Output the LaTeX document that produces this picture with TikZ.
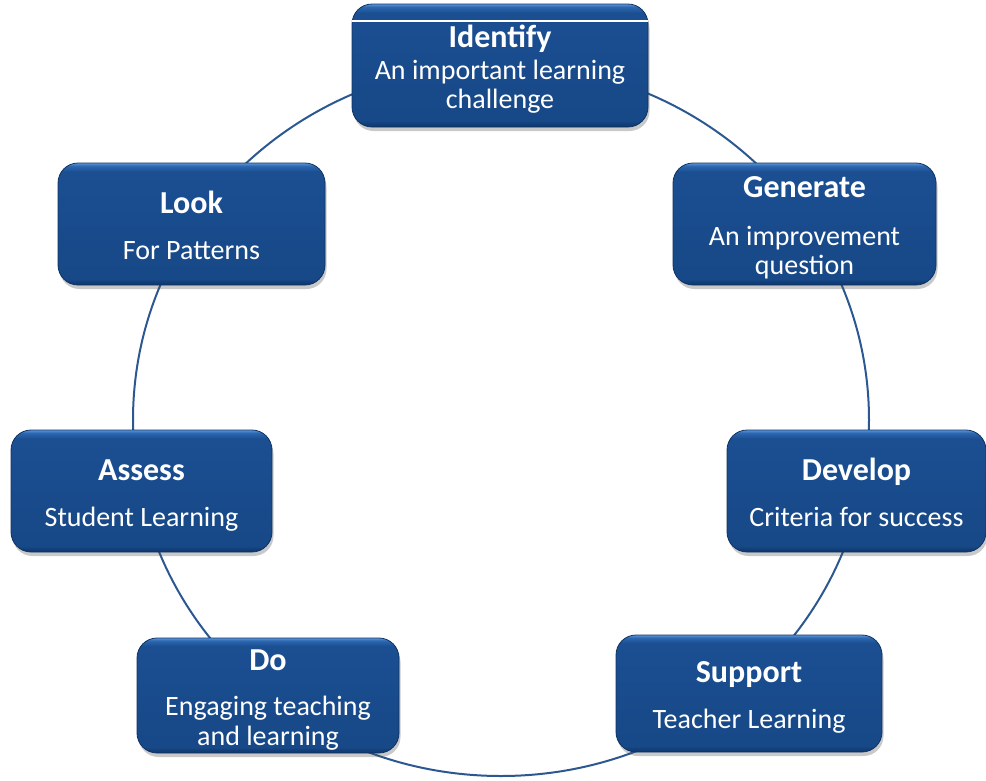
\documentclass[tikz,border=0pt]{standalone}
\usepackage{fontspec}
\setmainfont{Carlito}
\usetikzlibrary{shadows}
\definecolor{ringc}{HTML}{2C5892}
\definecolor{bdark}{HTML}{0E356A}
\definecolor{bmain}{HTML}{174887}
\definecolor{bmain2}{HTML}{1B4F92}
\definecolor{btop}{HTML}{2C67B0}
\definecolor{blight}{HTML}{5C95D8}
\definecolor{bedge}{HTML}{0F3464}
\pgfdeclareverticalshading{boxshade}{100bp}{color(0bp)=(bdark); color(25bp)=(bdark); color(27.5bp)=(bmain); color(71.5bp)=(bmain2); color(73.8bp)=(btop); color(75bp)=(blight); color(100bp)=(blight)}
\newcommand\ttl[1]{{\fontsize{32}{29}\selectfont\bfseries\rule{0pt}{31pt}#1}}
\newcommand\lastl{\rule[-7pt]{0pt}{7pt}}
\tikzset{
  stage/.style={rectangle, rounded corners=20pt, draw=bedge, line width=0.8pt,
    shading=boxshade, text=white, align=center, inner sep=0pt,
    font=\fontsize{28}{29}\selectfont,
    drop shadow={opacity=0.3, shadow xshift=1.5pt, shadow yshift=-4pt, fill=black!70}},
  ring/.style={draw=ringc, line width=2pt}
}
\begin{document}
\begin{tikzpicture}[x=1pt, y=-1pt]
\useasboundingbox (0,0) rectangle (986,780);
\draw[ring] (501,420) ellipse [x radius=368, y radius=356];
\node[stage, minimum width=296pt, minimum height=123pt] (identify) at (500,65.5)
  {\ttl{Identify}\\[3pt]An important learning\\challenge\lastl};
\node[stage, minimum width=267pt, minimum height=122pt] (look) at (191.5,224)
  {\ttl{Look}\\[17pt]For Patterns\lastl};
\node[stage, minimum width=263pt, minimum height=122pt] (generate) at (804.5,224)
  {\ttl{Generate}\\[19pt]An improvement\\question\lastl};
\node[stage, minimum width=261pt, minimum height=122pt] (assess) at (141.5,491)
  {\ttl{Assess}\\[17pt]Student Learning\lastl};
\node[stage, minimum width=259pt, minimum height=122pt] (develop) at (856.5,491)
  {\ttl{Develop}\\[17pt]Criteria for success\lastl};
\node[stage, minimum width=262pt, minimum height=115pt] (do) at (268,695.5)
  {\ttl{Do}\\[16pt]Engaging teaching\\[1pt]and learning\lastl};
\node[stage, minimum width=266pt, minimum height=117pt] (support) at (749,693.5)
  {\ttl{Support}\\[17pt]Teacher Learning\lastl};
\coordinate (wl) at (0,21);
\draw[white, line width=2.5pt] (identify.west |- wl) -- (identify.east |- wl);
\end{tikzpicture}
\end{document}
